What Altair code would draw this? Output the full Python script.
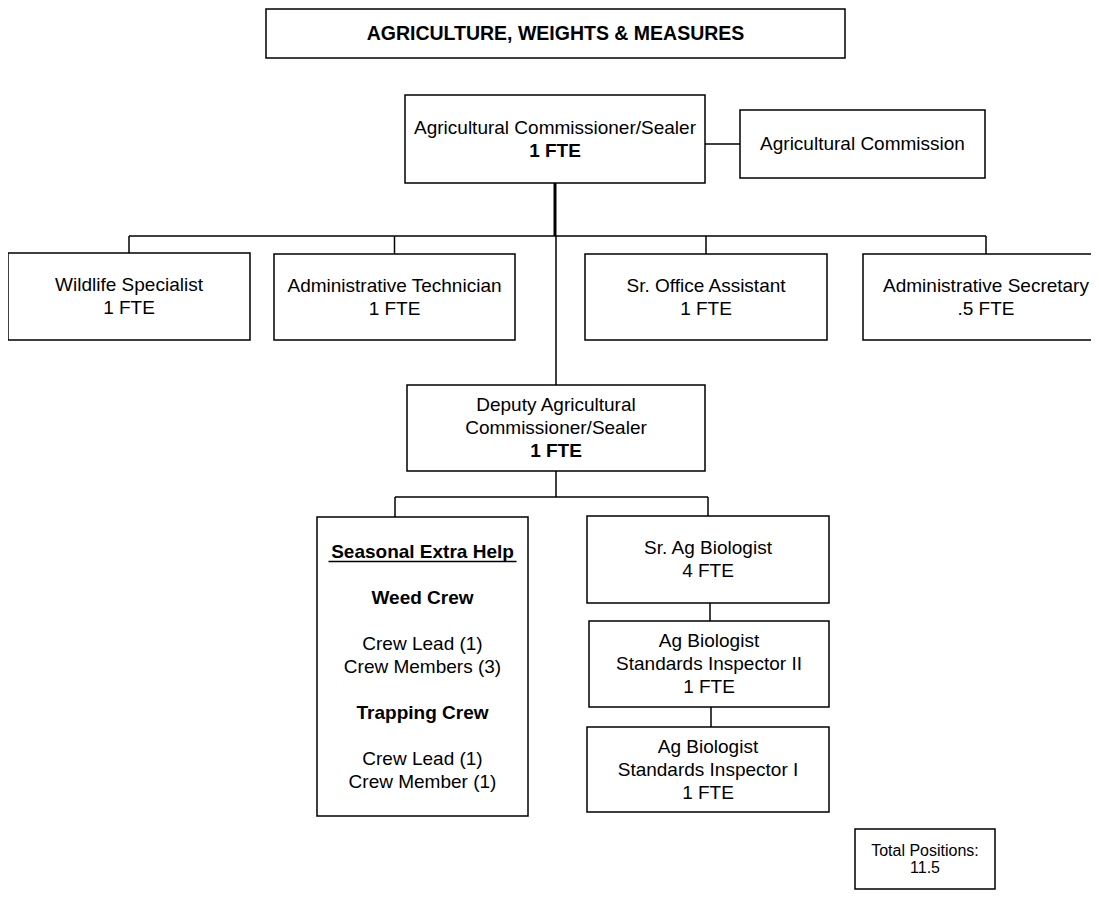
import altair as alt
import pandas as pd

# ---------------- content ----------------
TITLE = "AGRICULTURE, WEIGHTS & MEASURES"

ids = ["comm", "wildlife", "admintech", "sroffice", "adminsec",
       "deputy", "srbio", "bio2", "bio1"]
names = [["Agricultural Commissioner/Sealer"],
         ["Wildlife Specialist"],
         ["Administrative Technician"],
         ["Sr. Office Assistant"],
         ["Administrative Secretary"],
         ["Deputy Agricultural", "Commissioner/Sealer"],
         ["Sr. Ag Biologist"],
         ["Ag Biologist", "Standards Inspector II"],
         ["Ag Biologist", "Standards Inspector I"]]
fte = [1, 1, 1, 1, 0.5, 1, 4, 1, 1]
fte_bold = [True, False, False, False, False, True, False, False, False]
parents = [None, "comm", "comm", "comm", "comm", "comm", "deputy", "srbio", "bio2"]

advisory = "Agricultural Commission"
seasonal_header = "Seasonal Extra Help"
crews = ["Weed Crew", "Trapping Crew"]
crew_roles = [["Crew Lead (1)", "Crew Members (3)"],
              ["Crew Lead (1)", "Crew Member (1)"]]
total_label = "Total Positions:"

# ---------------- layout (page pixels) ----------------
BOX = {
    "title": (266, 9, 845, 58),
    "comm": (405, 95, 705, 183),
    "commission": (740, 110, 985, 178),
    "wildlife": (8, 253, 250, 340),
    "admintech": (274, 254, 515, 340),
    "sroffice": (585, 254, 827, 340),
    "adminsec": (863, 254, 1109, 340),
    "deputy": (407, 385, 705, 471),
    "seasonal": (317, 517, 528, 816),
    "srbio": (587, 516, 829, 603),
    "bio2": (589, 621, 829, 707),
    "bio1": (587, 727, 829, 812),
    "total": (855, 829, 995, 889),
}
BUS_Y = {"comm": 236, "deputy": 497}
DROP_X = {"seasonal": 395}
LINE_H = 23
FONT = "Liberation Sans"
FS = 19
FS_TITLE = 19.5
FS_SMALL = 16


def fmt_fte(v):
    s = f"{v:g}"
    if s.startswith("0."):
        s = s[1:]
    return s + " FTE"


def cx(b):
    return (BOX[b][0] + BOX[b][2]) / 2


def cy(b):
    return (BOX[b][1] + BOX[b][3]) / 2


# ---------------- text rows ----------------
text_rows = []


def add_lines(box, lines, spacing=LINE_H, size=FS):
    n = len(lines)
    c = cy(box)
    for i, (t, w) in enumerate(lines):
        if t:
            text_rows.append({"x": cx(box), "y": c + (i - (n - 1) / 2) * spacing,
                              "text": t, "weight": w, "size": size})


add_lines("title", [(TITLE, "bold")], size=FS_TITLE)
for i, b in enumerate(ids):
    ls = [(t, "normal") for t in names[i]]
    ls.append((fmt_fte(fte[i]), "bold" if fte_bold[i] else "normal"))
    add_lines(b, ls)
add_lines("commission", [(advisory, "normal")])
seas = [(seasonal_header, "bold"), ("", "normal")]
for k, crew in enumerate(crews):
    seas.append((crew, "bold"))
    seas.append(("", "normal"))
    seas += [(r, "normal") for r in crew_roles[k]]
    if k < len(crews) - 1:
        seas.append(("", "normal"))
add_lines("seasonal", seas)
add_lines("total", [(total_label, "normal"), (f"{sum(fte):g}", "normal")],
          spacing=17, size=FS_SMALL)
texts = pd.DataFrame(text_rows)

# ---------------- boxes ----------------
boxes = pd.DataFrame([{"id": k, "x1": v[0], "y1": v[1], "x2": v[2], "y2": v[3]}
                      for k, v in BOX.items()])

# ---------------- connectors ----------------
segs = []
all_children = ids + ["seasonal"]
all_parents = parents + ["deputy"]
kids = {}
for c, p in zip(all_children, all_parents):
    if p:
        kids.setdefault(p, []).append(c)
for p, cs in kids.items():
    if p in BUS_Y:
        by = BUS_Y[p]
        segs.append({"x1": cx(p), "x2": cx(p), "y1": BOX[p][3], "y2": by,
                     "w": 3 if p == "comm" else 1.5})
        xs = [DROP_X.get(c, cx(c)) for c in cs]
        segs.append({"x1": min(xs), "x2": max(xs), "y1": by, "y2": by, "w": 1.5})
        for c, x in zip(cs, xs):
            segs.append({"x1": x, "x2": x, "y1": by, "y2": BOX[c][1], "w": 1.5})
    else:
        for c in cs:
            x = cx(p) + 2
            segs.append({"x1": x, "x2": x, "y1": BOX[p][3], "y2": BOX[c][1], "w": 1.5})
# advisory link
segs.append({"x1": BOX["comm"][2], "x2": BOX["commission"][0],
             "y1": cy("commission"), "y2": cy("commission"), "w": 1.5})
# underline of seasonal header
hdr = texts[texts["text"] == seasonal_header].iloc[0]
half = 94
segs.append({"x1": hdr["x"] - half, "x2": hdr["x"] + half,
             "y1": hdr["y"] + 10, "y2": hdr["y"] + 10, "w": 1.5})
lines_df = pd.DataFrame(segs)

# ---------------- chart ----------------
W, H = 1083, 883
xs = alt.Scale(domain=[8, 8 + W], nice=False, zero=False)
ys = alt.Scale(domain=[8, 8 + H], nice=False, zero=False, reverse=True)

rects = alt.Chart(boxes).mark_rect(fill="white", stroke="#000000", strokeWidth=1.5,
                                   clip=True).encode(
    x=alt.X("x1:Q", scale=xs, axis=None), x2="x2:Q",
    y=alt.Y("y1:Q", scale=ys, axis=None), y2="y2:Q",
)

rules = alt.Chart(lines_df).mark_rule(color="#000000", clip=True).encode(
    x=alt.X("x1:Q", scale=xs, axis=None), x2="x2:Q",
    y=alt.Y("y1:Q", scale=ys, axis=None), y2="y2:Q",
    strokeWidth=alt.StrokeWidth("w:Q", scale=None, legend=None),
)


def text_layer(weight):
    return alt.Chart(texts[texts["weight"] == weight]).mark_text(
        font=FONT, fontWeight=weight, color="#000000", baseline="middle", align="center"
    ).encode(
        x=alt.X("x:Q", scale=xs, axis=None),
        y=alt.Y("y:Q", scale=ys, axis=None),
        text="text:N",
        size=alt.Size("size:Q", scale=None, legend=None),
    )


chart = alt.layer(rects, rules, text_layer("normal"), text_layer("bold")).properties(
    width=W, height=H, padding=0,
    autosize=alt.AutoSizeParams(type="none"),
).configure_view(stroke=None)

chart.save("out.html", embed_options={"renderer": "svg", "actions": False})
